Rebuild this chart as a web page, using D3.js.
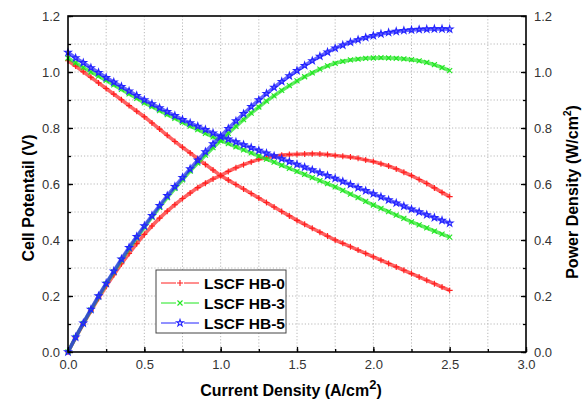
<!DOCTYPE html>
<html>
<head>
<meta charset="utf-8">
<script src="https://cdn.jsdelivr.net/npm/d3@7"></script>
<style>
  body { margin: 0; background: #fff; }
  svg { font-family: "Liberation Sans", Arial, sans-serif; }
  .tick text { font-size: 13px; fill: #333; }
  .grid line { stroke: #b8b8b8; stroke-dasharray: 1.2 2; stroke-width: 1; }
</style>
</head>
<body>
<svg id="chart" width="587" height="404"></svg>
<script>
// current density samples (A/cm2), step 0.05
const current = d3.range(0, 51).map(i => +(i * 0.05).toFixed(2));

const seriesNames = ["LSCF HB-0", "LSCF HB-3", "LSCF HB-5"];

// cell potential (V)
const voltHB0 = [1.040,1.021,1.001,0.981,0.961,0.941,0.921,0.901,0.880,0.860,0.840,0.818,0.796,0.774,0.752,0.731,0.711,0.690,0.670,0.650,0.630,0.614,0.598,0.582,0.566,0.550,0.534,0.518,0.502,0.486,0.470,0.456,0.442,0.428,0.414,0.400,0.388,0.376,0.364,0.352,0.340,0.328,0.316,0.304,0.292,0.280,0.268,0.256,0.244,0.232,0.220];
const voltHB3 = [1.050,1.033,1.016,1.000,0.985,0.970,0.954,0.938,0.922,0.906,0.890,0.876,0.862,0.848,0.834,0.820,0.807,0.794,0.781,0.768,0.755,0.744,0.733,0.722,0.711,0.700,0.689,0.678,0.667,0.656,0.645,0.634,0.623,0.612,0.601,0.590,0.577,0.564,0.551,0.538,0.525,0.513,0.501,0.489,0.477,0.465,0.454,0.443,0.432,0.421,0.410];
const voltHB5 = [1.070,1.050,1.033,1.015,0.998,0.980,0.964,0.948,0.932,0.916,0.900,0.886,0.872,0.858,0.844,0.830,0.818,0.806,0.794,0.782,0.770,0.760,0.750,0.740,0.730,0.720,0.710,0.700,0.690,0.680,0.670,0.660,0.650,0.640,0.630,0.620,0.609,0.598,0.587,0.576,0.565,0.554,0.543,0.532,0.521,0.510,0.500,0.490,0.480,0.470,0.460];

// power density (W/cm2)
const powerHB0 = [0.000,0.051,0.100,0.147,0.192,0.235,0.276,0.315,0.352,0.387,0.420,0.450,0.478,0.503,0.526,0.548,0.568,0.587,0.603,0.618,0.630,0.645,0.658,0.669,0.679,0.688,0.694,0.699,0.703,0.705,0.706,0.707,0.708,0.707,0.705,0.702,0.699,0.696,0.692,0.686,0.680,0.672,0.664,0.654,0.642,0.630,0.616,0.602,0.586,0.570,0.555];
const powerHB3 = [0.000,0.052,0.102,0.150,0.197,0.243,0.286,0.328,0.369,0.408,0.445,0.482,0.517,0.551,0.584,0.615,0.646,0.675,0.703,0.730,0.755,0.781,0.806,0.830,0.853,0.875,0.896,0.915,0.934,0.951,0.968,0.983,0.997,1.010,1.022,1.031,1.038,1.043,1.046,1.049,1.050,1.051,1.050,1.049,1.047,1.044,1.040,1.034,1.026,1.016,1.005];
const powerHB5 = [0.000,0.053,0.103,0.152,0.200,0.245,0.289,0.332,0.373,0.412,0.450,0.487,0.523,0.558,0.591,0.623,0.654,0.685,0.715,0.743,0.770,0.798,0.825,0.851,0.876,0.900,0.923,0.945,0.966,0.986,1.005,1.023,1.040,1.056,1.071,1.085,1.096,1.106,1.115,1.123,1.130,1.136,1.141,1.145,1.148,1.150,1.152,1.153,1.154,1.154,1.153];

const xTicks = [0, 0.5, 1.0, 1.5, 2.0, 2.5, 3.0];
const yTicks = [0, 0.2, 0.4, 0.6, 0.8, 1.0, 1.2];

const colors = ["#ff1f1f", "#1fe61f", "#2323ff"];
const shapes = ["plus", "cross", "star"];

const width = 587, height = 404;
const margin = {top: 16, right: 61, bottom: 52, left: 68};
const innerW = width - margin.left - margin.right;
const innerH = height - margin.top - margin.bottom;

const svg = d3.select("#chart");
const g = svg.append("g")
    .attr("transform", `translate(${margin.left},${margin.top})`);

const x = d3.scaleLinear().domain([0, 3]).range([0, innerW]);
const yV = d3.scaleLinear().domain([0, 1.2]).range([innerH, 0]);
const yP = d3.scaleLinear().domain([0, 1.2]).range([innerH, 0]);

// dotted grid at major and minor ticks
const xGrid = d3.range(1, 12).map(i => i * 0.25);
const yGrid = d3.range(1, 12).map(i => +(i * 0.1).toFixed(1));

g.append("g").attr("class", "grid")
    .selectAll("line").data(xGrid).enter().append("line")
    .attr("x1", d => x(d)).attr("x2", d => x(d))
    .attr("y1", 0).attr("y2", innerH);

g.append("g").attr("class", "grid")
    .selectAll("line").data(yGrid).enter().append("line")
    .attr("x1", 0).attr("x2", innerW)
    .attr("y1", d => yV(d)).attr("y2", d => yV(d));

// marker paths
function markerPath(shape) {
    if (shape === "plus") return "M-3,0H3M0,-3V3";
    if (shape === "cross") return "M-2.5,-2.5L2.5,2.5M-2.5,2.5L2.5,-2.5";
    return d3.symbol().type(d3.symbolStar).size(14)();
}

const series = [
    {name: seriesNames[0], volt: voltHB0, power: powerHB0},
    {name: seriesNames[1], volt: voltHB3, power: powerHB3},
    {name: seriesNames[2], volt: voltHB5, power: powerHB5}
];

const line = d3.line().x(d => d[0]).y(d => d[1]);

series.forEach((s, k) => {
    const curves = [
        current.map((c, i) => [x(c), yV(s.volt[i])]),
        current.map((c, i) => [x(c), yP(s.power[i])])
    ];
    curves.forEach(pts => {
        g.append("path")
            .attr("d", line(pts))
            .attr("fill", "none")
            .attr("stroke", colors[k])
            .attr("stroke-width", 3.6)
            .attr("stroke-opacity", 0.7);
        g.append("g").selectAll("path").data(pts).enter().append("path")
            .attr("transform", d => `translate(${d[0]},${d[1]})`)
            .attr("d", markerPath(shapes[k]))
            .attr("fill", "none")
            .attr("stroke", colors[k])
            .attr("stroke-width", 1.1);
    });
});

// axes
const minorX = d3.range(0, 13).map(i => i * 0.25);
const minorY = d3.range(0, 13).map(i => +(i * 0.1).toFixed(1));

function styleAxis(sel) {
    sel.select(".domain").remove();
    sel.selectAll(".tick line").attr("stroke", "#000").attr("stroke-width", 1.3);
}

g.append("g").attr("transform", `translate(0,${innerH})`)
    .call(d3.axisBottom(x).tickValues(minorX).tickSize(-3).tickFormat(""))
    .call(styleAxis);
g.append("g").attr("transform", `translate(0,${innerH})`)
    .call(d3.axisBottom(x).tickValues(xTicks).tickSize(-5).tickPadding(8).tickFormat(d3.format(".1f")))
    .call(styleAxis);

g.append("g")
    .call(d3.axisLeft(yV).tickValues(minorY).tickSize(-3).tickFormat(""))
    .call(styleAxis);
g.append("g")
    .call(d3.axisLeft(yV).tickValues(yTicks).tickSize(-5).tickPadding(8).tickFormat(d3.format(".1f")))
    .call(styleAxis);

g.append("g").attr("transform", `translate(${innerW},0)`)
    .call(d3.axisRight(yP).tickValues(minorY).tickSize(-3).tickFormat(""))
    .call(styleAxis);
g.append("g").attr("transform", `translate(${innerW},0)`)
    .call(d3.axisRight(yP).tickValues(yTicks).tickSize(-5).tickPadding(8).tickFormat(d3.format(".1f")))
    .call(styleAxis);

// frame
g.append("rect")
    .attr("width", innerW).attr("height", innerH)
    .attr("fill", "none").attr("stroke", "#000").attr("stroke-width", 1.6);

// axis titles
svg.append("text")
    .attr("transform", `translate(34,${margin.top + innerH / 2 + 14}) rotate(-90)`)
    .attr("text-anchor", "middle")
    .style("font-size", "16px").style("font-weight", "bold")
    .text("Cell Potentail (V)");

const rt = svg.append("text")
    .attr("transform", `translate(578,${margin.top + innerH / 2 + 8}) rotate(-90)`)
    .attr("text-anchor", "middle")
    .style("font-size", "16px").style("font-weight", "bold");
rt.append("tspan").text("Power Density (W/cm");
rt.append("tspan").attr("dy", -7).style("font-size", "10px").text("2");
rt.append("tspan").attr("dy", 7).text(")");

const bt = svg.append("text")
    .attr("x", 291).attr("y", 396)
    .attr("text-anchor", "middle")
    .style("font-size", "16px").style("font-weight", "bold");
bt.append("tspan").text("Current Density (A/cm");
bt.append("tspan").attr("dy", -7).style("font-size", "13px").text("2");
bt.append("tspan").attr("dy", 7).text(")");

// legend
const lg = svg.append("g").attr("transform", "translate(156,270)");
lg.append("rect")
    .attr("width", 130).attr("height", 63)
    .attr("fill", "#fff").attr("stroke", "#444").attr("stroke-width", 1);

series.forEach((s, k) => {
    const yy = 13 + k * 20;
    lg.append("line")
        .attr("x1", 5).attr("x2", 43).attr("y1", yy).attr("y2", yy)
        .attr("stroke", colors[k]).attr("stroke-width", 1);
    lg.append("rect")
        .attr("x", 20).attr("y", yy - 4).attr("width", 8).attr("height", 8)
        .attr("fill", "#fff");
    lg.append("path")
        .attr("transform", `translate(24,${yy})`)
        .attr("d", markerPath(shapes[k]))
        .attr("fill", "none").attr("stroke", colors[k]).attr("stroke-width", 1.1);
    lg.append("text")
        .attr("x", 48).attr("y", yy + 5.5)
        .style("font-size", "15.5px").style("font-weight", "bold")
        .text(s.name);
});
</script>
</body>
</html>
